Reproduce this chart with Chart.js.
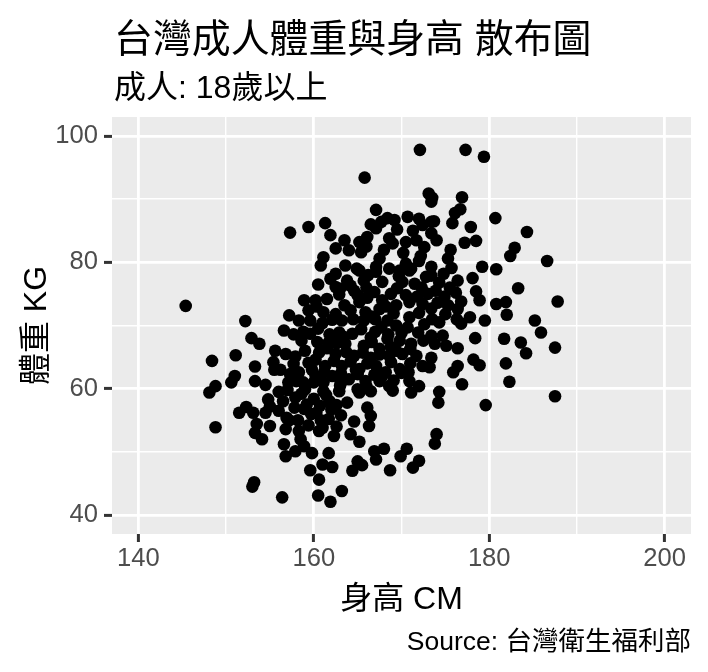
<!DOCTYPE html>
<html>
<head>
<meta charset="utf-8">
<script src="https://cdn.jsdelivr.net/npm/chart.js@4.4.1/dist/chart.umd.min.js"></script>
<style>
  html, body { margin: 0; padding: 0; background: #fff; }
</style>
</head>
<body>
<canvas id="scatter" width="708" height="672"></canvas>
<script>
// 身高 (cm) 與 體重 (kg)，由圖上讀出的估計值
const heights = [
  145.4,157.3,172.1,177.3,179.4,165.8,173.1,173.5,176.9,176.7,
  176.1,175.8,173.7,177.9,180.7,184.3,177.2,178.5,182.9,182.4,
  186.6,175.6,175.3,174.0,179.2,180.8,173.4,167.1,168.4,169.2,
  167.7,167.1,159.4,161.3,161.9,170.7,172.0,172.4,173.4,168.6,
  169.0,170.5,171.7,172.6,173.4,166.1,165.2,164.0,162.5,165.4,
  161.1,160.8,163.6,167.5,167.1,169.8,171.1,173.4,164.9,175.7,
  178.1,183.3,187.8,178.5,178.9,180.8,181.9,182.0,176.4,176.3,
  176.8,177.8,179.5,185.2,185.9,187.5,178.4,181.7,183.6,184.2,
  174.3,174.7,173.8,175.1,176.4,173.4,173.2,178.2,178.9,176.4,
  175.9,181.9,176.9,182.3,174.3,187.5,173.4,174.3,175.5,173.9,
  174.9,176.2,174.1,173.4,175.3,176.4,174.2,179.6,174.0,173.8,
  152.2,157.2,156.6,157.7,152.9,153.8,155.6,156.8,157.9,151.1,
  148.4,153.3,157.7,151.0,150.6,153.3,154.5,157.3,157.1,156.0,
  148.8,148.1,158.3,148.8,151.5,152.3,153.1,154.8,154.5,156.0,
  156.9,153.5,153.3,154.1,155.0,156.8,158.3,156.6,156.8,157.9,
  153.2,153.0,156.4,157.9,166.1,166.5,166.3,164.6,162.3,164.2,
  165.2,159.8,161.7,166.9,168.0,167.1,165.0,165.5,161.0,162.1,
  159.6,164.4,168.7,169.9,170.6,172.0,171.3,160.6,160.5,163.2,
  161.9,165.2,169.0,171.1,158.6,160.0,161.4,162.6,158.9,160.3,
  161.7,159.4,163.1,158.5,160.6,158.9,165.2,167.1,168.6,170.9,
  172.8,161.9,163.8,165.7,167.8,170.1,171.5,162.5,164.6,166.9,
  168.8,170.5,173.0,160.2,161.5,165.2,167.8,169.4,170.9,172.4,
  159.4,161.1,162.5,164.2,165.9,167.5,170.9,159.6,161.0,163.2,
  165.7,167.7,169.4,170.7,171.9,173.4,159.6,162.9,164.4,166.5,
  168.4,169.8,171.1,161.7,163.6,165.7,167.5,159.0,160.6,162.5,
  164.6,166.5,168.6,170.1,171.7,159.4,161.3,163.2,165.2,167.1,
  168.2,169.8,172.4,160.2,162.1,164.0,165.9,167.5,170.9,172.0,
  159.0,161.1,162.9,165.0,166.5,168.6,158.3,158.6,158.0,158.9,
  162.5,166.2,169.7,160.5,164.2,166.0,169.5,172.3,162.9,166.1,
  168.2,171.8,160.3,163.5,169.1,172.0,173.5,162.1,164.5,166.6,
  168.4,172.6,160.5,161.8,165.4,167.0,170.0,158.8,160.4,162.6,
  166.6,168.8,172.5,161.5,163.7,165.6,167.5,169.4,171.0,160.2,
  162.3,164.2,166.1,168.8,171.0,161.2,163.1,165.0,166.9,170.8,
  158.8,161.1,163.1,169.1,160.7,159.7,161.0,162.0,163.8,156.2,
  155.4,157.0,155.0,157.8,157.2,166.0,168.0,170.2,172.2,169.5,
  171.3,163.5,166.5,174.8,175.0,176.8,162.0,163.4,164.8,163.0,
  166.0,167.8,160.0,159.8,161.8,159.2,160.8,162.6,158.2,170.0,
  168.5,167.0,163.0,165.0,170.5,172.0,155.5,156.5
];
const weights = [
  73.1,84.7,97.8,97.8,96.7,93.4,90.9,90.2,90.3,88.4,
  87.8,86.2,86.5,85.6,87.0,84.8,83.1,83.4,82.3,81.0,
  80.2,82.0,80.6,83.5,79.3,78.9,89.6,88.3,87.0,86.7,
  86.4,85.4,85.6,86.2,84.3,87.2,86.9,85.9,86.4,83.8,
  83.0,83.2,83.5,82.4,84.6,84.0,83.2,81.9,82.2,81.6,
  80.8,79.5,79.5,80.6,79.3,78.7,79.0,79.3,79.0,79.1,
  77.5,75.9,73.8,75.4,74.0,73.4,73.7,71.7,72.6,71.0,
  70.3,71.3,70.8,70.8,68.9,66.5,68.0,67.9,67.3,65.6,
  70.5,68.4,67.1,66.8,66.4,64.9,63.4,64.6,63.7,63.6,
  62.6,64.0,60.7,61.1,59.5,58.8,77.9,76.8,76.0,75.5,
  74.6,75.2,73.6,72.7,73.2,77.1,57.8,57.4,52.8,51.3,
  70.7,71.6,69.2,68.6,68.0,67.1,66.0,65.5,65.1,65.3,
  64.4,63.5,63.9,62.0,61.0,61.2,60.6,62.3,61.0,59.5,
  60.4,59.4,62.6,53.9,56.2,57.1,56.2,58.3,56.2,56.5,
  55.4,54.4,53.0,52.0,54.1,53.6,53.3,51.2,49.3,50.1,
  45.2,44.5,42.8,58.6,57.0,55.7,54.1,54.8,52.5,52.8,
  51.6,49.8,49.8,50.1,50.5,48.8,48.5,47.9,48.0,47.6,
  47.1,47.0,47.1,49.3,50.5,48.6,47.5,45.6,43.1,43.8,
  42.1,59.4,59.7,59.4,59.2,58.4,59.0,57.4,56.8,56.2,
  55.2,54.2,55.8,52.0,53.3,50.9,78.7,78.5,79.0,78.7,
  77.7,77.4,77.1,77.1,76.9,76.9,76.6,76.1,75.5,75.3,
  75.0,74.8,75.0,74.0,74.2,73.7,74.0,73.2,73.7,73.4,
  72.4,72.1,71.8,72.4,72.1,72.6,71.3,70.8,70.4,70.8,
  70.8,69.7,70.0,69.7,68.9,68.4,68.7,68.9,68.7,68.1,
  67.9,67.6,67.1,67.3,67.1,66.8,66.3,66.0,65.7,65.5,
  65.2,64.9,65.2,65.5,65.2,64.1,63.6,63.6,63.1,63.6,
  62.6,63.1,63.6,62.0,62.0,61.5,61.2,61.2,61.2,60.4,
  59.9,59.6,59.6,59.9,59.6,60.4,70.8,67.6,61.2,74.0,
  78.2,78.0,77.8,76.5,76.3,76.0,75.9,76.0,74.9,74.4,
  73.0,74.6,73.0,73.2,71.9,72.0,71.0,70.9,71.0,71.4,
  70.8,70.2,69.5,68.6,69.4,69.0,68.8,69.0,67.4,67.2,
  67.4,66.6,67.6,66.4,65.8,65.7,65.4,66.0,66.3,64.6,
  64.4,64.3,64.0,64.2,64.0,62.7,62.4,62.3,62.2,62.6,
  61.0,61.0,61.0,61.3,57.3,56.0,53.8,56.7,57.8,63.0,
  64.2,59.8,57.2,57.0,55.0,82.5,82.0,81.5,81.0,85.2,
  85.0,83.5,86.0,78.2,71.8,73.8,68.0,68.2,63.0,60.5,
  60.4,62.0,61.0,63.0,58.0,57.5,55.0,54.0,55.0,62.5,
  68.6,71.0,75.8,74.8,79.8,80.2,63.0,58.0
];

// 刻度：主刻度有標籤，次刻度只有格線
const xMajor = [140, 160, 180, 200];
const xMinor = [150, 170, 190];
const yMajor = [40, 60, 80, 100];
const yMinor = [50, 70, 90];

const titleText = "台灣成人體重與身高 散布圖";
const subtitleText = "成人: 18歲以上";
const xTitle = "身高 CM";
const yTitle = "體重 KG";
const captionText = "Source: 台灣衛生福利部";

const FONT = '"Liberation Sans", Arial, "Noto Sans CJK TC", sans-serif';

// ggplot 灰底面板 + 標題文字
const ggPanel = {
    id: "ggPanel",
    beforeDraw(chart) {
        const { ctx, chartArea: a } = chart;
        ctx.save();
        ctx.fillStyle = "#EBEBEB";
        ctx.fillRect(a.left, a.top, a.right - a.left, a.bottom - a.top);
        ctx.restore();
    },
    afterDraw(chart) {
        const { ctx, chartArea: a } = chart;
        ctx.save();
        ctx.fillStyle = "#000";
        ctx.textBaseline = "alphabetic";

        ctx.textAlign = "left";
        ctx.font = "38.9px " + FONT;
        ctx.fillText(titleText, a.left + 2, 52);
        ctx.font = "32px " + FONT;
        ctx.fillText(subtitleText, a.left + 2, 98);

        ctx.textAlign = "center";
        ctx.fillText(xTitle, (a.left + a.right) / 2, 609);

        ctx.save();
        ctx.translate(46, (a.top + a.bottom) / 2);
        ctx.rotate(-Math.PI / 2);
        ctx.fillText(yTitle, 0, 0);
        ctx.restore();

        ctx.textAlign = "right";
        ctx.font = "26.5px " + FONT;
        ctx.fillText(captionText, a.right, 650);
        ctx.restore();
    }
};

const isMajor = (list, v) => list.includes(v);

const ctx = document.getElementById("scatter").getContext("2d");
const scatterChart = new Chart(ctx, {
    type: "scatter",
    data: {
        datasets: [{
            data: heights.map((h, i) => ({ x: h, y: weights[i] })),
            backgroundColor: "#000",
            borderWidth: 0,
            pointRadius: 6.3,
            pointHoverRadius: 6.3
        }]
    },
    options: {
        responsive: false,
        animation: false,
        events: [],
        layout: { padding: { top: 117, right: 17, bottom: 0, left: 0 } },
        plugins: {
            legend: { display: false },
            tooltip: { enabled: false }
        },
        scales: {
            x: {
                type: "linear",
                min: 137,
                max: 203,
                afterBuildTicks: s => { s.ticks = xMajor.concat(xMinor).sort((a, b) => a - b).map(v => ({ value: v })); },
                afterFit: s => { s.height = 138; },
                border: { display: false },
                grid: {
                    color: "#FFFFFF",
                    lineWidth: c => isMajor(xMajor, c.tick.value) ? 2.8 : 1.4,
                    tickLength: 8,
                    tickWidth: 3,
                    tickColor: c => isMajor(xMajor, c.tick.value) ? "#333333" : "rgba(0,0,0,0)"
                },
                ticks: {
                    color: "#4D4D4D",
                    font: { family: FONT, size: 25.6 },
                    padding: 2,
                    autoSkip: false,
                    maxRotation: 0,
                    callback: v => isMajor(xMajor, v) ? String(v) : ""
                }
            },
            y: {
                type: "linear",
                min: 37,
                max: 103,
                afterBuildTicks: s => { s.ticks = yMajor.concat(yMinor).sort((a, b) => a - b).map(v => ({ value: v })); },
                afterFit: s => { s.width = 112; },
                border: { display: false },
                grid: {
                    color: "#FFFFFF",
                    lineWidth: c => isMajor(yMajor, c.tick.value) ? 2.8 : 1.4,
                    tickLength: 8,
                    tickWidth: 3,
                    tickColor: c => isMajor(yMajor, c.tick.value) ? "#333333" : "rgba(0,0,0,0)"
                },
                ticks: {
                    color: "#4D4D4D",
                    font: { family: FONT, size: 25.6 },
                    padding: 6,
                    autoSkip: false,
                    callback: v => isMajor(yMajor, v) ? String(v) : ""
                }
            }
        }
    },
    plugins: [ggPanel]
});
</script>
</body>
</html>
